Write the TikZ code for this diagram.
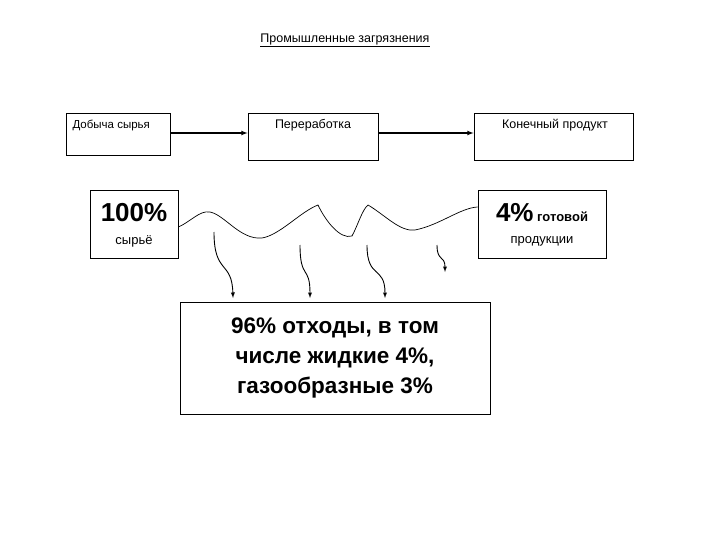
\documentclass[tikz,border=0pt]{standalone}
\usepackage{fontspec}
\setmainfont{Liberation Sans}
\begin{document}
\begin{tikzpicture}[x=1pt,y=-1pt,
 bx/.style={draw,line width=0.9pt,inner sep=0pt},
 ar/.style={-latex,line width=1.1pt},
 war/.style={-latex,line width=0.9pt}]
\useasboundingbox (0,0) rectangle (720,540);
\node at (345,40) {\fontsize{12.5}{14}\selectfont\underline{Промышленные загрязнения}};
\node[bx,minimum width=104pt,minimum height=42pt] (b1) at (118,134) {};
\node[anchor=north west,font=\fontsize{11.5}{13}\selectfont] at (69,117) {Добыча сырья};
\node[bx,minimum width=130pt,minimum height=47pt] (b2) at (313,136.5) {};
\node[anchor=north,font=\fontsize{12.5}{14}\selectfont] at (313,116) {Переработка};
\node[bx,minimum width=159pt,minimum height=47pt] (b3) at (553.5,136.5) {};
\node[anchor=north,font=\fontsize{12.5}{14}\selectfont] at (555,116) {Конечный продукт};
\draw[ar] (170,133) -- (b2.west|-0,133);
\draw[ar] (378,133) -- (b3.west|-0,133);
\node[bx,minimum width=88pt,minimum height=68pt] (b4) at (134,224) {};
\node[font=\bfseries\fontsize{26}{28}\selectfont] at (134,213) {100\%};
\node[font=\fontsize{13}{15}\selectfont] at (134,241) {сырьё};
\node[bx,minimum width=128pt,minimum height=68pt] (b5) at (542,224) {};
\node[font=\fontsize{13}{15}\selectfont] at (542,213) {\fontsize{26}{28}\selectfont\bfseries 4\%\fontsize{13}{15}\selectfont\ готовой};
\node[font=\fontsize{13}{15}\selectfont] at (542,241) {продукции};
\node[bx,minimum width=310pt,minimum height=112pt,align=center,font=\bfseries\fontsize{22.5}{30}\selectfont] (b6) at (335,358) {96\% отходы, в том\\ числе жидкие 4\%,\\ газообразные 3\%};
\coordinate (w0) at (b4.east|-0,227);
\coordinate (w9) at (b5.west|-0,207);
\draw[line width=0.7pt] (w0) .. controls (190,222) and (200,210) .. (210,212)
 .. controls (225,215) and (240,240) .. (262,238)
 .. controls (280,235) and (300,212) .. (318,205)
 .. controls (325,220) and (340,240) .. (352,236)
 .. controls (358,225) and (362,210) .. (368,205)
 .. controls (385,215) and (400,232) .. (415,230)
 .. controls (440,225) and (460,208) .. (w9);
\coordinate (a1) at (214,232); \coordinate (e1) at (233,298);
\coordinate (a2) at (300,245); \coordinate (e2) at (310,298);
\coordinate (a3) at (367,245); \coordinate (e3) at (385,298);
\coordinate (a4) at (437,245); \coordinate (e4) at (445,272);
\draw[war] (a1) .. controls (214,275) and (232,260) .. (e1);
\draw[war] (a2) .. controls (300,280) and (310,265) .. (e2);
\draw[war] (a3) .. controls (367,280) and (385,265) .. (e3);
\draw[war] (a4) .. controls (437,262) and (445,255) .. (e4);
\end{tikzpicture}
\end{document}
